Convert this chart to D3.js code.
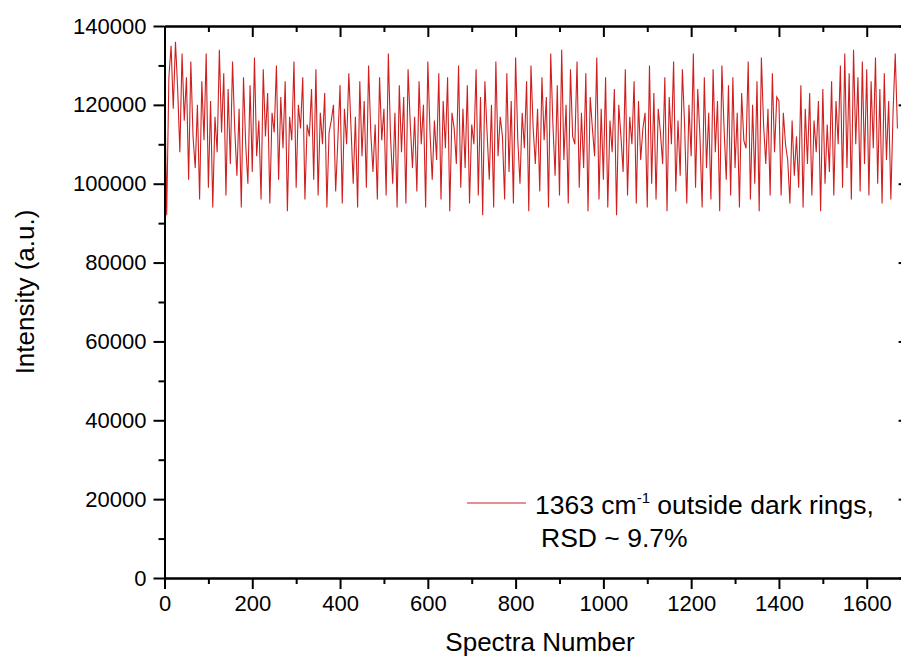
<!DOCTYPE html>
<html>
<head>
<meta charset="utf-8">
<script src="https://cdn.jsdelivr.net/npm/d3@7"></script>
<style>
  html, body { margin: 0; padding: 0; background: #fff; }
  svg { display: block; }
  text { font-family: "Liberation Sans", Arial, sans-serif; fill: #000; }
</style>
</head>
<body>
<svg id="chart" width="901" height="657"></svg>
<script>
// ---- data ----
const spectraStep = 5; // sampled every 5 spectra
const intensity = [
  130000, 92000, 127000, 135000, 119000, 136000, 124000, 108000, 133000, 116000,
  127000, 101000, 131000, 112000, 104000, 120000, 96000, 126000, 111000, 133000,
  99000, 121000, 94000, 117000, 108000, 134000, 113000, 128000, 97000, 124000,
  105000, 131000, 114000, 102000, 119000, 94000, 127000, 110000, 100000, 125000,
  103000, 132000, 107000, 116000, 96000, 129000, 112000, 123000, 95000, 118000,
  113000, 130000, 101000, 122000, 109000, 126000, 93000, 117000, 111000, 131000,
  99000, 120000, 114000, 127000, 96000, 115000, 112000, 124000, 101000, 129000,
  97000, 118000, 110000, 123000, 94000, 113000, 116000, 120000, 98000, 111000,
  125000, 95000, 119000, 110000, 128000, 114000, 100000, 117000, 94000, 126000,
  107000, 121000, 99000, 130000, 113000, 103000, 115000, 96000, 127000, 111000,
  119000, 97000, 133000, 112000, 100000, 118000, 94000, 125000, 108000, 122000,
  95000, 129000, 115000, 104000, 117000, 98000, 126000, 110000, 120000, 94000,
  131000, 113000, 101000, 116000, 106000, 128000, 96000, 121000, 109000, 127000,
  93000, 118000, 114000, 105000, 130000, 99000, 119000, 104000, 125000, 95000,
  115000, 110000, 129000, 97000, 122000, 92000, 126000, 113000, 101000, 120000,
  94000, 131000, 107000, 117000, 112000, 96000, 128000, 103000, 121000, 95000,
  132000, 111000, 100000, 118000, 109000, 126000, 93000, 130000, 114000, 105000,
  119000, 98000, 127000, 111000, 122000, 94000, 133000, 115000, 102000, 125000,
  97000, 134000, 106000, 120000, 95000, 129000, 112000, 110000, 131000, 99000,
  118000, 104000, 128000, 93000, 122000, 114000, 107000, 132000, 96000, 119000,
  101000, 127000, 94000, 116000, 108000, 124000, 92000, 120000, 112000, 103000,
  129000, 97000, 117000, 110000, 126000, 95000, 121000, 106000, 114000, 118000,
  94000, 130000, 100000, 123000, 96000, 119000, 113000, 105000, 127000, 93000,
  122000, 110000, 131000, 98000, 116000, 102000, 129000, 115000, 95000, 120000,
  107000, 133000, 99000, 124000, 112000, 94000, 127000, 104000, 118000, 96000,
  129000, 108000, 121000, 93000, 130000, 114000, 101000, 125000, 97000, 127000,
  104000, 118000, 94000, 123000, 111000, 109000, 131000, 96000, 120000, 100000,
  126000, 93000, 132000, 115000, 105000, 119000, 97000, 128000, 108000, 122000,
  121000, 97000, 118000, 110000, 106000, 95000, 116000, 102000, 112000, 99000,
  125000, 94000, 119000, 105000, 123000, 97000, 116000, 108000, 121000, 93000,
  124000, 100000, 115000, 103000, 126000, 97000, 121000, 110000, 130000, 99000,
  133000, 104000, 128000, 96000, 134000, 110000, 127000, 98000, 131000, 105000,
  129000, 97000, 126000, 109000, 132000, 100000, 124000, 95000, 128000, 106000,
  121000, 96000, 118000, 133000, 114000
];
const spectra = intensity.map((_, i) => i * spectraStep);

const xDomain = [0, 1700];
const yDomain = [0, 140000];
const xMajorTicks = [0, 200, 400, 600, 800, 1000, 1200, 1400, 1600];
const xMinorTicks = [100, 300, 500, 700, 900, 1100, 1300, 1500, 1700];
const yMajorTicks = [0, 20000, 40000, 60000, 80000, 100000, 120000, 140000];
const yMinorTicks = [10000, 30000, 50000, 70000, 90000, 110000, 130000];

const xTitle = "Spectra Number";
const yTitle = "Intensity (a.u.)";
const legendLine1 = ["1363 cm", "-1", " outside dark rings,"];
const legendLine2 = "RSD ~ 9.7%";
const lineColor = "#cf1f1f";

// ---- layout ----
const svg = d3.select("#chart");
const L = 164.5, R = 910.6, T = 26, B = 578;

const x = d3.scaleLinear().domain(xDomain).range([L, R]);
const y = d3.scaleLinear().domain(yDomain).range([B, T]);

const data = spectra.map((s, i) => ({ s, v: intensity[i] }));

svg.append("defs").append("clipPath").attr("id", "clip")
  .append("rect").attr("x", L).attr("y", T).attr("width", R - L).attr("height", B - T);

const line = d3.line().x(d => x(d.s)).y(d => y(d.v));
svg.append("path")
  .datum(data)
  .attr("clip-path", "url(#clip)")
  .attr("fill", "none")
  .attr("stroke", lineColor)
  .attr("stroke-width", 1.1)
  .attr("d", line);

function styleAxis(g) {
  g.selectAll(".domain").attr("stroke", "#000").attr("stroke-width", 2);
  g.selectAll(".tick line").attr("stroke", "#000").attr("stroke-width", 2);
}

// bottom axis (outward ticks)
const gB = svg.append("g").attr("transform", `translate(0,${B})`)
  .call(d3.axisBottom(x).tickValues(xMajorTicks).tickSize(11).tickSizeOuter(0).tickPadding(6)
        .tickFormat(d3.format("d")));
gB.selectAll("text").attr("font-size", 22).attr("dy", "0.71em");
styleAxis(gB);
const gBm = svg.append("g").attr("transform", `translate(0,${B})`)
  .call(d3.axisBottom(x).tickValues(xMinorTicks).tickSize(6).tickSizeOuter(0).tickFormat(""));
styleAxis(gBm);

// top axis (inward ticks)
const gT = svg.append("g").attr("transform", `translate(0,${T})`)
  .call(d3.axisBottom(x).tickValues(xMajorTicks).tickSize(11).tickSizeOuter(0).tickFormat(""));
styleAxis(gT);
const gTm = svg.append("g").attr("transform", `translate(0,${T})`)
  .call(d3.axisBottom(x).tickValues(xMinorTicks).tickSize(6).tickSizeOuter(0).tickFormat(""));
styleAxis(gTm);

// left axis (outward ticks)
const gL = svg.append("g").attr("transform", `translate(${L},0)`)
  .call(d3.axisLeft(y).tickValues(yMajorTicks).tickSize(11).tickSizeOuter(0).tickPadding(7)
        .tickFormat(d3.format("d")));
gL.selectAll("text").attr("font-size", 22);
styleAxis(gL);
const gLm = svg.append("g").attr("transform", `translate(${L},0)`)
  .call(d3.axisLeft(y).tickValues(yMinorTicks).tickSize(6).tickSizeOuter(0).tickFormat(""));
styleAxis(gLm);

// right axis (inward ticks)
const gR = svg.append("g").attr("transform", `translate(${R},0)`)
  .call(d3.axisRight(y).tickValues(yMajorTicks).tickSize(-12).tickSizeOuter(0).tickFormat(""));
styleAxis(gR);
const gRm = svg.append("g").attr("transform", `translate(${R},0)`)
  .call(d3.axisRight(y).tickValues(yMinorTicks).tickSize(-6).tickSizeOuter(0).tickFormat(""));
styleAxis(gRm);

// axis titles
svg.append("text")
  .attr("x", 540).attr("y", 651)
  .attr("text-anchor", "middle").attr("font-size", 26)
  .text(xTitle);
svg.append("text")
  .attr("transform", `translate(34,292) rotate(-90)`)
  .attr("text-anchor", "middle").attr("font-size", 26)
  .text(yTitle);

// legend
svg.append("line")
  .attr("x1", 467).attr("x2", 526).attr("y1", 503).attr("y2", 503)
  .attr("stroke", lineColor).attr("stroke-width", 1.1);
const lt = svg.append("text").attr("x", 535).attr("y", 514).attr("font-size", 26.5);
lt.append("tspan").text(legendLine1[0]);
lt.append("tspan").attr("font-size", 15).attr("dy", -11).text(legendLine1[1]);
lt.append("tspan").attr("dy", 11).text(legendLine1[2]);
svg.append("text").attr("x", 541).attr("y", 547).attr("font-size", 26.5).text(legendLine2);
</script>
</body>
</html>
